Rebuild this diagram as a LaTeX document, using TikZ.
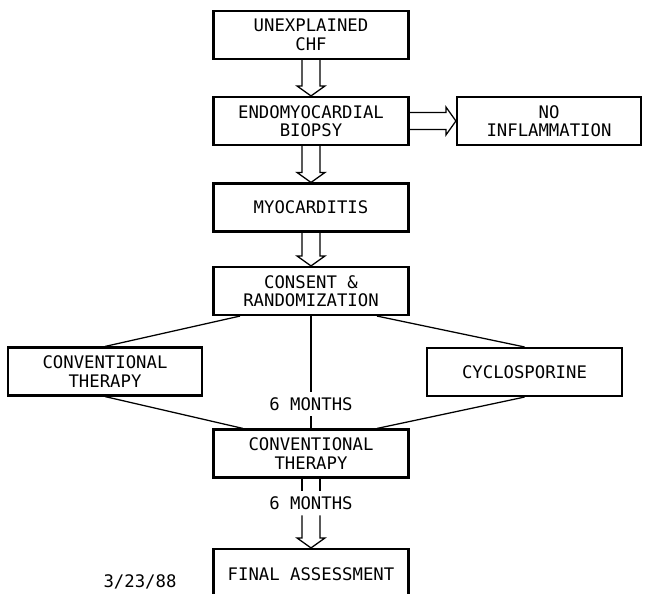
\documentclass[tikz,border=0pt]{standalone}
\usepackage{fontspec}
\setmonofont{DejaVu Sans Mono}
\usetikzlibrary{calc}

% hollow block arrows (two shaft lines and an open head)
\newcommand{\hollowdown}[2]{%
  \draw[blockline] ($(#1.south)+(-9,0)$) -- ($(#2.north)+(-9,-10)$) -- ($(#2.north)+(-14,-10)$)
    -- (#2.north) -- ($(#2.north)+(14,-10)$) -- ($(#2.north)+(9,-10)$) -- ($(#1.south)+(9,0)$);}
\newcommand{\hollowright}[2]{%
  \draw[blockline] ($(#1.east)+(0,-8.5)$) -- ($(#2.west)+(-10,-8.5)$) -- ($(#2.west)+(-10,-14)$)
    -- (#2.west) -- ($(#2.west)+(-10,14)$) -- ($(#2.west)+(-10,8.5)$) -- ($(#1.east)+(0,8.5)$);}

\begin{document}
\begin{tikzpicture}[
    x=0.025cm, y=-0.025cm,
    every node/.style={font=\ttfamily\fontsize{12.3}{13.2}\selectfont},
    box/.style={draw, line width=1.5pt, align=center, inner sep=0pt,
                minimum width=4.875cm, minimum height=1.2cm},
    months/.style={inner xsep=2pt, inner ysep=4pt},
    link/.style={line width=0.9pt},
    blockline/.style={line width=0.9pt, line join=miter}
]

\clip (0,0) rectangle (645,593);

% --- Main column ---
\node[box] (chf)     at (311,35)    {UNEXPLAINED\\CHF};
\node[box] (biopsy)  at (311,121)   {ENDOMYOCARDIAL\\BIOPSY};
\node[box, minimum width=4.6cm] (noinf) at (549,121) {NO\\INFLAMMATION};
\node[box] (myo)     at (311,207.5) {MYOCARDITIS};
\node[box] (consent) at (311,291)   {CONSENT \&\\RANDOMIZATION};

% --- Randomized arms ---
\node[box, minimum width=4.85cm] (convL) at (105,371.5) {CONVENTIONAL\\THERAPY};
\node[box] (cyclo)   at (524.5,372) {CYCLOSPORINE};
\node[months] (m1)   at (311,404)   {6 MONTHS};
\node[box] (conv)    at (311,453.5) {CONVENTIONAL\\THERAPY};
\node[months] (m2)   at (311,503)   {6 MONTHS};
\node[box, minimum height=1.25cm] (final) at (311,574) {FINAL ASSESSMENT};

\node (date) at (140,582) {3/23/88};

% --- Block arrows ---
\hollowdown{chf}{biopsy}
\hollowright{biopsy}{noinf}
\hollowdown{biopsy}{myo}
\hollowdown{myo}{consent}

% --- Randomization lines ---
\draw[link] ($(consent.south)+(-71,0)$) -- (convL.north);
\draw[link] ($(consent.south)+(66,0)$) -- (cyclo.north);
\draw[link] (consent.south) -- (m1.north);
\draw[link] (m1.south) -- (conv.north);
\draw[link] (convL.south) -- ($(conv.north)+(-68,0)$);
\draw[link] (cyclo.south) -- ($(conv.north)+(66,0)$);

% --- Second six months ---
\draw[blockline] ($(conv.south)+(-9,0)$) -- ($(m2.north)+(-9,0)$);
\draw[blockline] ($(conv.south)+(9,0)$) -- ($(m2.north)+(9,0)$);
\draw[blockline] ($(m2.south)+(-9,0)$) -- ($(final.north)+(-9,-10)$) -- ($(final.north)+(-14,-10)$)
    -- (final.north) -- ($(final.north)+(14,-10)$) -- ($(final.north)+(9,-10)$) -- ($(m2.south)+(9,0)$);

\end{tikzpicture}
\end{document}
